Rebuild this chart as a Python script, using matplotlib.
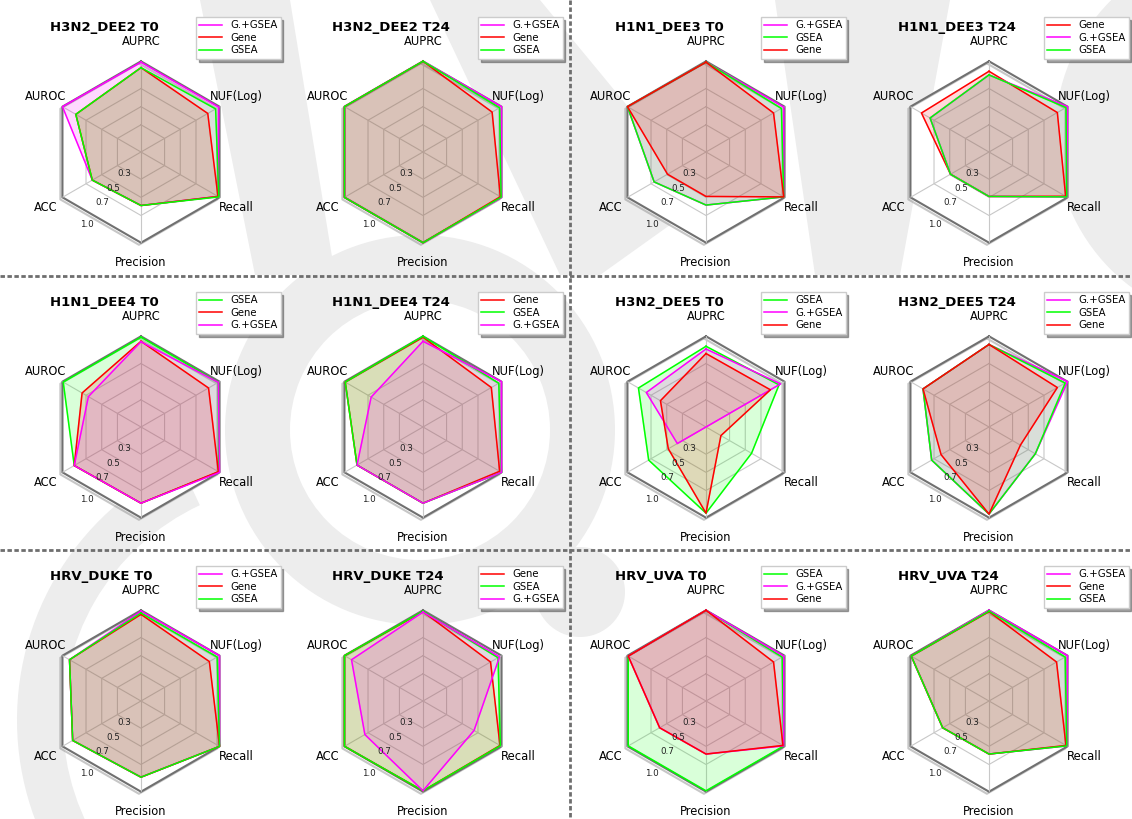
import numpy as np
import matplotlib
matplotlib.use("Agg")
import matplotlib.pyplot as plt
import matplotlib.patheffects as pe
from matplotlib.patches import Polygon, Circle, Wedge

W, H = 1132, 819

METRICS = ["AUPRC", "NUF(Log)", "Recall", "Precision", "ACC", "AUROC"]
TITLES = ["H3N2_DEE2 T0", "H3N2_DEE2 T24", "H1N1_DEE3 T0", "H1N1_DEE3 T24",
          "H1N1_DEE4 T0", "H1N1_DEE4 T24", "H3N2_DEE5 T0", "H3N2_DEE5 T24",
          "HRV_DUKE T0", "HRV_DUKE T24", "HRV_UVA T0", "HRV_UVA T24"]
# legend / drawing order per panel
ORDER = [
    ["G.+GSEA", "Gene", "GSEA"], ["G.+GSEA", "Gene", "GSEA"],
    ["G.+GSEA", "GSEA", "Gene"], ["Gene", "G.+GSEA", "GSEA"],
    ["GSEA", "Gene", "G.+GSEA"], ["Gene", "GSEA", "G.+GSEA"],
    ["GSEA", "G.+GSEA", "Gene"], ["G.+GSEA", "GSEA", "Gene"],
    ["G.+GSEA", "Gene", "GSEA"], ["Gene", "GSEA", "G.+GSEA"],
    ["GSEA", "G.+GSEA", "Gene"], ["G.+GSEA", "Gene", "GSEA"],
]
# values per panel, in METRICS order
GENE = [
    [0.93, 0.85, 0.98, 0.59, 0.62, 0.83],
    [1.00, 0.88, 0.985, 1.00, 1.00, 1.00],
    [0.99, 0.86, 0.99, 0.49, 0.49, 1.00],
    [0.89, 0.87, 0.976, 0.49, 0.49, 0.86],
    [0.945, 0.86, 0.985, 0.84, 0.85, 0.75],
    [0.99, 0.87, 0.976, 0.84, 0.84, 0.99],
    [0.81, 0.82, 0.19, 0.95, 0.48, 0.58],
    [0.91, 0.87, 0.40, 0.96, 0.61, 0.84],
    [0.955, 0.87, 1.00, 0.84, 0.87, 0.91],
    [0.985, 0.86, 0.98, 0.99, 1.00, 1.00],
    [1.00, 0.86, 0.98, 0.585, 0.59, 0.99],
    [0.985, 0.86, 0.98, 0.585, 0.59, 0.99],
]
GSEA = [
    [0.93, 0.95, 0.99, 0.59, 0.62, 0.83],
    [1.00, 0.975, 0.995, 1.00, 1.00, 1.00],
    [0.99, 0.96, 0.99, 0.585, 0.66, 1.00],
    [0.85, 0.98, 0.99, 0.49, 0.49, 0.75],
    [0.99, 0.985, 0.99, 0.84, 0.85, 0.99],
    [1.00, 0.965, 1.00, 0.84, 0.84, 0.99],
    [0.89, 0.93, 0.58, 0.95, 0.73, 0.86],
    [0.91, 0.97, 0.59, 0.96, 0.73, 0.84],
    [0.97, 0.97, 1.00, 0.84, 0.87, 0.91],
    [0.99, 0.955, 0.985, 0.99, 1.00, 1.00],
    [1.00, 0.97, 0.99, 0.99, 0.99, 0.99],
    [0.99, 0.97, 0.99, 0.585, 0.59, 0.99],
]
GENE_GSEA = [
    [0.99, 0.99, 0.98, 0.59, 0.62, 1.00],
    [1.00, 1.00, 1.00, 1.00, 1.00, 1.00],
    [0.99, 0.99, 0.99, 0.585, 0.66, 1.00],
    [0.85, 1.00, 0.99, 0.49, 0.49, 0.75],
    [0.94, 0.985, 1.00, 0.84, 0.85, 0.67],
    [0.945, 1.00, 1.00, 0.84, 0.84, 0.66],
    [0.86, 0.95, 0.00, 0.00, 0.365, 0.76],
    [0.91, 1.00, 0.59, 0.96, 0.73, 0.84],
    [0.99, 1.00, 1.00, 0.84, 0.87, 0.91],
    [0.98, 0.975, 0.65, 0.99, 0.74, 0.91],
    [1.00, 0.99, 0.99, 0.585, 0.59, 0.99],
    [1.00, 1.00, 0.99, 0.585, 0.59, 0.99],
]
R_TICKS = [0.3, 0.5, 0.7, 1.0]
R_TICK_LABELS = ["0.3", "0.5", "0.7", "1.0"]

SERIES = {"Gene": GENE, "GSEA": GSEA, "G.+GSEA": GENE_GSEA}
COLORS = {"Gene": "#ff0000", "GSEA": "#00ff00", "G.+GSEA": "#ff00ff"}

fig = plt.figure(figsize=(W / 100, H / 100), dpi=100)
fig.patch.set_facecolor("white")

bg = fig.add_axes([0, 0, 1, 1])
bg.set_zorder(-5)
bg.set_xlim(0, W)
bg.set_ylim(0, H)
bg.invert_yaxis()
bg.axis("off")

# faint watermark in the background (approximate shapes)
WM = "#ededed"
bg.add_patch(Polygon([(200, 0), (290, 0), (335, 275), (255, 275)], facecolor=WM, edgecolor="none"))
bg.add_patch(Polygon([(430, 0), (540, 0), (705, 200), (600, 275), (560, 275)], facecolor=WM, edgecolor="none"))
bg.add_patch(Polygon([(775, 0), (950, 0), (900, 275), (815, 275)], facecolor=WM, edgecolor="none"))
bg.add_patch(Circle((1245, 135), 190, facecolor=WM, edgecolor="none"))
bg.add_patch(Wedge((420, 430), 195, 0, 360, width=65, facecolor=WM, edgecolor="none"))
bg.add_patch(Wedge((300, 720), 283, 105, 245, width=46, facecolor=WM, edgecolor="none"))
bg.add_patch(Circle((580, 592), 45, facecolor=WM, edgecolor="none"))

# dashed panel separators
sep = dict(color="#6e6e6e", lw=2.0, dashes=(1.6, 0.9))
bg.plot([0, W], [276, 276], **sep)
bg.plot([0, W], [550, 550], **sep)
bg.plot([570, 570], [0, H], **sep)

col_x = [141, 423, 706, 989]
row_y = [152, 427, 701]
R = 90.7
angles = np.deg2rad([0, 60, 120, 180, 240, 300])
closed = np.append(angles, angles[0])

for i, title in enumerate(TITLES):
    cx = col_x[i % 4]
    cy = row_y[i // 4]
    ax = fig.add_axes([(cx - R) / W, 1 - (cy + R) / H, 2 * R / W, 2 * R / H],
                      projection="polar")
    ax.set_theta_offset(np.pi / 2)
    ax.set_theta_direction(-1)
    ax.set_facecolor("none")
    ax.spines["polar"].set_visible(False)

    ax.fill(closed, np.ones(7), color="white", zorder=0)
    for r in [0.3, 0.5, 0.7]:
        ax.plot(closed, np.full(7, r), color="#c8c8c8", lw=0.8, zorder=1)
    ax.plot(closed, np.ones(7), color="#707070", lw=1.5, zorder=1.5, clip_on=False,
            path_effects=[pe.SimpleLineShadow(offset=(-1.5, -1.5), shadow_color="#909090", alpha=0.5),
                          pe.Normal()])

    ax.set_xticks(angles)
    ax.set_xticklabels(METRICS, fontsize=8.3)
    ax.tick_params(axis="x", pad=3.5)
    ax.set_yticks([])
    ax.xaxis.grid(True, color="#c8c8c8", lw=0.8)
    ax.set_ylim(0, 1)
    for rv, rl in zip(R_TICKS, R_TICK_LABELS):
        ax.text(np.deg2rad(217), rv, rl, ha="center", va="center", fontsize=6.3,
                color="#222222", zorder=4)

    for name in ORDER[i]:
        vals = np.array(SERIES[name][i])
        v = np.append(vals, vals[0])
        ax.plot(closed, v, color=COLORS[name], lw=1.1, label=name, zorder=3, clip_on=False)
        ax.fill(closed, v, color=COLORS[name], alpha=0.15, zorder=2)

    ax.legend(loc="upper right", bbox_to_anchor=(1.27, 1.245), borderaxespad=0,
              fontsize=7.3, labelspacing=0.25, borderpad=0.35, handlelength=2.2,
              fancybox=False, shadow=True, framealpha=1, edgecolor="#cccccc")
    ax.text(0.0, 1.187, title, transform=ax.transAxes, ha="left", va="center",
            fontsize=9.5, fontweight="bold")

fig.savefig("out.png", dpi=100)
